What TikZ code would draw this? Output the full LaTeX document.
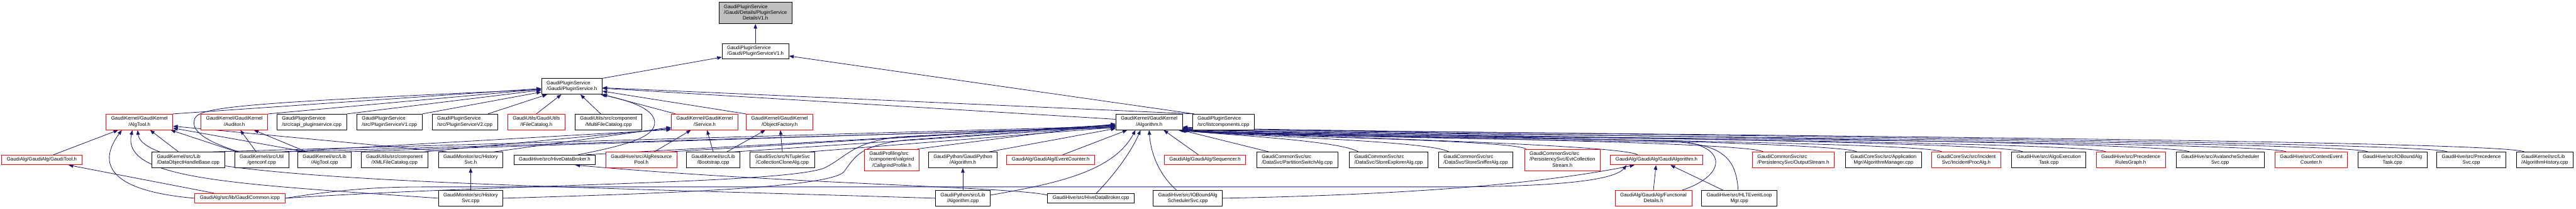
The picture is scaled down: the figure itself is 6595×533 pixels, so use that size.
\documentclass[tikz,border=0pt]{standalone}
\usepackage{fontspec}
\setmainfont{Liberation Sans}
\usetikzlibrary{arrows.meta,backgrounds}
\definecolor{edgec}{HTML}{191970}
\definecolor{topfill}{HTML}{BFBFBF}
\newcommand{\nlab}[1]{\begin{tabular}{@{}l@{}}#1\end{tabular}}
\newcommand{\lastln}[1]{\multicolumn{1}{@{}c@{}}{#1}}
\begin{document}
\begin{tikzpicture}[x=1pt,y=-1pt,
  nbox/.style={draw=black,line width=1.4pt,fill=white,inner xsep=13pt,inner ysep=0pt,font=\fontsize{12.7pt}{15pt}\selectfont},
  rbox/.style={nbox,draw=red},
  gbox/.style={nbox,fill=topfill},
  hone/.style={minimum height=25pt},
  htwo/.style={minimum height=40pt},
  hthree/.style={minimum height=55pt},
  inc/.style={draw=edgec,line width=1.3pt,-{Triangle[length=12pt,width=9pt]}}]
\useasboundingbox (0,0) rectangle (6595,533);
% ---------- level 0-2
\node[gbox,hthree] (top) at (1934,33) {\nlab{GaudiPluginService\\/Gaudi/Details/PluginService\\\lastln{DetailsV1.h}}};
\node[nbox,htwo] (V1h) at (1934,131) {\nlab{GaudiPluginService\\\lastln{/Gaudi/PluginServiceV1.h}}};
\node[nbox,htwo] (PSh) at (1464,221) {\nlab{GaudiPluginService\\\lastln{/Gaudi/PluginService.h}}};
% ---------- row 3
\node[rbox,htwo] (AlgToolh) at (357,312) {\nlab{GaudiKernel/GaudiKernel\\\lastln{/AlgTool.h}}};
\node[rbox,htwo] (Auditorh) at (600,312) {\nlab{GaudiKernel/GaudiKernel\\\lastln{/Auditor.h}}};
\node[nbox,htwo] (capi) at (798,312) {\nlab{GaudiPluginService\\\lastln{/src/capi\_pluginservice.cpp}}};
\node[nbox,htwo] (V1cpp) at (997,312) {\nlab{GaudiPluginService\\\lastln{/src/PluginServiceV1.cpp}}};
\node[nbox,htwo] (V2cpp) at (1190,312) {\nlab{GaudiPluginService\\\lastln{/src/PluginServiceV2.cpp}}};
\node[rbox,htwo] (IFC) at (1373,312) {\nlab{GaudiUtils/GaudiUtils\\\lastln{/IFileCatalog.h}}};
\node[nbox,htwo] (MFC) at (1558,312) {\nlab{GaudiUtils/src/component\\\lastln{/MultiFileCatalog.cpp}}};
\node[rbox,htwo] (Serviceh) at (1804,312) {\nlab{GaudiKernel/GaudiKernel\\\lastln{/Service.h}}};
\node[rbox,htwo] (ObjFh) at (1996,312) {\nlab{GaudiKernel/GaudiKernel\\\lastln{/ObjectFactory.h}}};
\node[nbox,htwo] (Algh) at (2942,312) {\nlab{GaudiKernel/GaudiKernel\\\lastln{/Algorithm.h}}};
\node[nbox,htwo] (listc) at (3132,312) {\nlab{GaudiPluginService\\\lastln{/src/listcomponents.cpp}}};
% ---------- row 4
\node[rbox,hone] (GaudiToolh) at (107,409) {\nlab{GaudiAlg/GaudiAlg/GaudiTool.h}};
\node[nbox,htwo] (DOHB) at (482,409) {\nlab{GaudiKernel/src/Lib\\\lastln{/DataObjectHandleBase.cpp}}};
\node[nbox,htwo] (genconf) at (670,409) {\nlab{GaudiKernel/src/Util\\\lastln{/genconf.cpp}}};
\node[nbox,htwo] (AlgToolcpp) at (831,409) {\nlab{GaudiKernel/src/Lib\\\lastln{/AlgTool.cpp}}};
\node[nbox,htwo] (XMLFC) at (1010,409) {\nlab{GaudiUtils/src/component\\\lastln{/XMLFileCatalog.cpp}}};
\node[nbox,htwo] (HistSvch) at (1205,409) {\nlab{GaudiMonitor/src/History\\\lastln{Svc.h}}};
\node[nbox,hone] (HDBh) at (1420,409) {\nlab{GaudiHive/src/HiveDataBroker.h}};
\node[rbox,htwo] (ARPh) at (1642,409) {\nlab{GaudiHive/src/AlgResource\\\lastln{Pool.h}}};
\node[nbox,htwo] (Bootstrap) at (1826,409) {\nlab{GaudiKernel/src/Lib\\\lastln{/Bootstrap.cpp}}};
\node[nbox,htwo] (CCA) at (2003,409) {\nlab{GaudiSvc/src/NTupleSvc\\\lastln{/CollectionCloneAlg.cpp}}};
\node[rbox,hthree] (Callgrind) at (2283,409) {\nlab{GaudiProfiling/src\\/component/valgrind\\\lastln{/CallgrindProfile.h}}};
\node[nbox,htwo] (GPAlgh) at (2465,409) {\nlab{GaudiPython/GaudiPython\\\lastln{/Algorithm.h}}};
\node[rbox,hone] (EventCounterh) at (2690,409) {\nlab{GaudiAlg/GaudiAlg/EventCounter.h}};
\node[rbox,hone] (Sequencerh) at (3085,409) {\nlab{GaudiAlg/GaudiAlg/Sequencer.h}};
\node[nbox,htwo] (PartSwitch) at (3321,409) {\nlab{GaudiCommonSvc/src\\\lastln{/DataSvc/PartitionSwitchAlg.cpp}}};
\node[nbox,htwo] (StoreExpl) at (3555,409) {\nlab{GaudiCommonSvc/src\\\lastln{/DataSvc/StoreExplorerAlg.cpp}}};
\node[nbox,htwo] (StoreSniff) at (3778,409) {\nlab{GaudiCommonSvc/src\\\lastln{/DataSvc/StoreSnifferAlg.cpp}}};
\node[rbox,hthree] (EvtColl) at (4000,409) {\nlab{GaudiCommonSvc/src\\/PersistencySvc/EvtCollection\\\lastln{Stream.h}}};
\node[rbox,hone] (GaudiAlgh) at (4241,409) {\nlab{GaudiAlg/GaudiAlg/GaudiAlgorithm.h}};
\node[rbox,htwo] (OutputStream) at (4591,409) {\nlab{GaudiCommonSvc/src\\\lastln{/PersistencySvc/OutputStream.h}}};
\node[nbox,htwo] (AlgMgr) at (4822,409) {\nlab{GaudiCoreSvc/src/Application\\\lastln{Mgr/AlgorithmManager.cpp}}};
\node[rbox,htwo] (IncProc) at (5034,409) {\nlab{GaudiCoreSvc/src/Incident\\\lastln{Svc/IncidentProcAlg.h}}};
\node[nbox,htwo] (AlgoExec) at (5245,409) {\nlab{GaudiHive/src/AlgoExecution\\\lastln{Task.cpp}}};
\node[rbox,htwo] (PRG) at (5455,409) {\nlab{GaudiHive/src/Precedence\\\lastln{RulesGraph.h}}};
\node[nbox,htwo] (Avalanche) at (5684,409) {\nlab{GaudiHive/src/AvalancheScheduler\\\lastln{Svc.cpp}}};
\node[rbox,htwo] (CEC) at (5917,409) {\nlab{GaudiHive/src/ContextEvent\\\lastln{Counter.h}}};
\node[nbox,htwo] (IOBTask) at (6125,409) {\nlab{GaudiHive/src/IOBoundAlg\\\lastln{Task.cpp}}};
\node[nbox,htwo] (PrecSvc) at (6327,409) {\nlab{GaudiHive/src/Precedence\\\lastln{Svc.cpp}}};
\node[nbox,htwo] (AlgHist) at (6515,409) {\nlab{GaudiKernel/src/Lib\\\lastln{/AlgorithmHistory.cpp}}};
% ---------- row 5
\node[rbox,hone] (GaudiCommon) at (614,507) {\nlab{GaudiAlg/src/lib/GaudiCommon.icpp}};
\node[nbox,htwo] (HistSvccpp) at (1205,507) {\nlab{GaudiMonitor/src/History\\\lastln{Svc.cpp}}};
\node[nbox,htwo] (GPAlgcpp) at (2465,507) {\nlab{GaudiPython/src/Lib\\\lastln{/Algorithm.cpp}}};
\node[nbox,hone] (HDBcpp) at (2793,507) {\nlab{GaudiHive/src/HiveDataBroker.cpp}};
\node[nbox,htwo] (IOBSched) at (3041,507) {\nlab{GaudiHive/src/IOBoundAlg\\\lastln{SchedulerSvc.cpp}}};
\node[rbox,htwo] (FuncDetails) at (4233,507) {\nlab{GaudiAlg/GaudiAlg/Functional\\\lastln{Details.h}}};
\node[nbox,htwo] (HLT) at (4453,507) {\nlab{GaudiHive/src/HLTEventLoop\\\lastln{Mgr.cpp}}};
% ================= edges
\begin{scope}[on background layer]
\draw[inc] (V1h.north) -- (top.south);
\draw[inc] (PSh.north east) -- (V1h);
\draw[inc] ([xshift=5]listc.north west) -- (V1h);
\draw[inc] ([xshift=5]listc.north west) -- (PSh);
\draw[inc] (capi.north east) -- (PSh);
\draw[inc] (V1cpp.north east) -- (PSh);
\draw[inc] ([xshift=59]V2cpp.north) -- (PSh);
\draw[inc] (IFC.north) -- (PSh);
\draw[inc] ([xshift=-20]MFC.north) -- (PSh);
\draw[inc] (AlgToolh.north east) -- (PSh);
\draw[inc] (Auditorh.north east) -- (PSh);
\draw[inc] ([xshift=12]Serviceh.north west) -- (PSh);
\draw[inc] (ObjFh.north west) -- (PSh);
\draw[inc] ([yshift=7]Algh.west) -- (PSh);
\draw[inc] ([xshift=12]genconf.north west) .. controls (560,372) and (490,345) .. (497,310) .. controls (500,275) and (560,266) .. ([yshift=-8]PSh.west);
% AlgTool.h
\draw[inc] ([xshift=6]genconf.north west) -- ([xshift=-6]AlgToolh.south east);
\draw[inc] ([xshift=-25]DOHB.north) -- (AlgToolh);
\draw[inc] ([xshift=30]GaudiToolh.north) -- (AlgToolh);
\draw[inc] ([xshift=23]AlgToolcpp.north west) -- ([yshift=5]AlgToolh.south east);
\draw[inc] ([xshift=-60]HistSvch.north) -- ([yshift=10]AlgToolh.south east);
\draw[inc] (GaudiCommon.west) .. controls (300,490) and (240,430) .. ([xshift=-45]AlgToolh.south);
\draw[inc] (HistSvccpp.west) .. controls (600,470) and (310,460) .. ([xshift=-18]AlgToolh.south);
\draw[inc] (GPAlgcpp.west) .. controls (1200,470) and (370,462) .. ([xshift=-5]AlgToolh.south);
% Auditor.h
\draw[inc] ([xshift=-14]genconf.north) -- (Auditorh);
\draw[inc] ([xshift=23]AlgToolcpp.north west) -- (Auditorh);
% GaudiTool.h
\draw[inc] ([xshift=49]GaudiCommon.north west) -- (GaudiToolh);
% Service.h
\draw[inc] ([xshift=52]genconf.north) -- ([yshift=1]Serviceh.south west);
\draw[inc] ([xshift=-10]XMLFC.north east) -- ([yshift=4]Serviceh.south west);
\draw[inc] ([xshift=60]HistSvch.north) -- ([yshift=7]Serviceh.south west);
\draw[inc] ([xshift=33]ARPh.north) -- (Serviceh);
\draw[inc] (Bootstrap.north) -- (Serviceh);
% ObjectFactory.h
\draw[inc] ([xshift=35]Bootstrap.north) -- (ObjFh);
\draw[inc] (CCA.north) -- (ObjFh);
% HiveDataBroker.h -> PluginService.h (around)
\draw[inc] ([xshift=60]HDBh.north) .. controls (1610,370) and (1678,350) .. (1676,312) .. controls (1674,275) and (1600,255) .. ([xshift=-4]PSh.south east);
% small ones
\draw[inc] (HistSvccpp) -- (HistSvch);
\draw[inc] (GPAlgcpp) -- (GPAlgh);
\draw[inc] ([yshift=8]HDBcpp.west) .. controls (2600,478) and (2000,470) .. ([xshift=53]HDBh.south);
% Algorithm.h from the left
\draw[inc] ([xshift=-30]DOHB.north east) -- ([yshift=10]Algh.south west);
\draw[inc] ([xshift=58]genconf.north) -- ([yshift=6]Algh.south west);
\draw[inc] ([xshift=-18]AlgToolcpp.north east) -- ([yshift=8]Algh.south west);
\draw[inc] ([xshift=80]HDBh.north) -- ([yshift=12]Algh.south west);
\draw[inc] ([xshift=-20]ARPh.north east) -- ([yshift=14]Algh.south west);
\draw[inc] ([xshift=-15]Bootstrap.north east) -- ([yshift=9]Algh.south west);
\draw[inc] ([xshift=-15]CCA.north east) -- ([yshift=7]Algh.south west);
\draw[inc] ([xshift=-5]Callgrind.north east) -- ([yshift=16]Algh.south west);
\draw[inc] ([xshift=-22]GPAlgh.north east) -- ([yshift=4]Algh.south west);
\draw[inc] (GaudiCommon.east) .. controls (1300,470) and (2000,470) .. (2110,430) .. controls (2170,400) and (2180,365) .. (2300,350) -- ([yshift=11]Algh.south west);
\draw[inc] (HistSvccpp.east) .. controls (1700,495) and (2120,480) .. (2160,440) .. controls (2190,400) and (2200,372) .. (2320,358) -- ([yshift=13]Algh.south west);
\draw[inc] ([yshift=8]GPAlgcpp.east) .. controls (2700,470) and (2850,440) .. ([xshift=-35]Algh.south);
\draw[inc] ([xshift=31]EventCounterh.north) -- ([xshift=-56]Algh.south);
\draw[inc] ([xshift=14]HDBcpp.north) .. controls (2860,440) and (2900,380) .. ([xshift=-22]Algh.south);
\draw[inc] ([xshift=-29]IOBSched.north) .. controls (2960,440) and (2945,380) .. (Algh.south);
\draw[inc] ([xshift=-17]Sequencerh.north) -- ([xshift=37]Algh.south);
\draw[inc] ([xshift=32]PartSwitch.north west) -- ([xshift=-4]Algh.south east);
% GaudiAlgorithm.h
\draw[inc] (GaudiCommon.east) .. controls (900,480) and (1000,478) .. (1100,478) -- (3700,478) .. controls (3950,478) and (4130,465) .. ([xshift=42]GaudiAlgh.south west);
\draw[inc] (IOBSched.east) .. controls (3500,500) and (3900,480) .. ([xshift=62]GaudiAlgh.south west);
\draw[inc] (FuncDetails.north) -- (GaudiAlgh);
\draw[inc] ([xshift=-42]HLT.north) -- ([xshift=-83]GaudiAlgh.south east);
% Algorithm.h from the right
\draw[inc] ([xshift=24]StoreExpl.north west) .. controls +(-50,-30) and +(100,12) .. ([xshift=-6]Algh.south east);
\draw[inc] ([xshift=27]StoreSniff.north west) .. controls +(-50,-30) and +(110,14) .. ([xshift=-8]Algh.south east);
\draw[inc] ([xshift=5]EvtColl.north west) .. controls +(-50,-25) and +(120,16) .. ([xshift=-2]Algh.south east);
\draw[inc] ([xshift=70]GaudiAlgh.north west) .. controls +(-50,-30) and +(120,12) .. ([xshift=-10]Algh.south east);
\draw[inc] ([xshift=29]OutputStream.north west) .. controls +(-50,-30) and +(130,14) .. (Algh.south east);
\draw[inc] ([xshift=30]AlgMgr.north west) .. controls +(-50,-30) and +(130,10) .. ([yshift=2]Algh.south east);
\draw[inc] ([xshift=27]IncProc.north west) .. controls +(-50,-30) and +(140,16) .. ([xshift=-4]Algh.south east);
\draw[inc] ([xshift=30]AlgoExec.north west) .. controls +(-50,-30) and +(140,12) .. ([yshift=4]Algh.south east);
\draw[inc] ([xshift=26]PRG.north west) .. controls +(-50,-30) and +(150,14) .. ([xshift=-2]Algh.south east);
\draw[inc] ([xshift=35]Avalanche.north west) .. controls +(-50,-30) and +(150,10) .. ([yshift=6]Algh.south east);
\draw[inc] ([xshift=30]CEC.north west) .. controls +(-50,-30) and +(160,16) .. ([xshift=-8]Algh.south east);
\draw[inc] ([xshift=27]IOBTask.north west) .. controls +(-50,-30) and +(160,12) .. ([yshift=3]Algh.south east);
\draw[inc] ([xshift=28]PrecSvc.north west) .. controls +(-50,-30) and +(170,12) .. ([yshift=8]Algh.south east);
\draw[inc] ([xshift=21]AlgHist.north west) .. controls +(-60,-35) and +(170,10) .. ([yshift=5]Algh.south east);
\draw[inc] ([xshift=-25]FuncDetails.north east) .. controls (4430,445) and (4420,365) .. (4280,360) .. controls (3800,352) and (3200,345) .. ([yshift=1]Algh.south east);
\draw[inc] ([xshift=-3]HLT.north) .. controls (4445,420) and (4425,372) .. (4300,364) .. controls (3800,355) and (3200,346) .. ([xshift=-12]Algh.south east);
\end{scope}
\end{tikzpicture}
\end{document}
